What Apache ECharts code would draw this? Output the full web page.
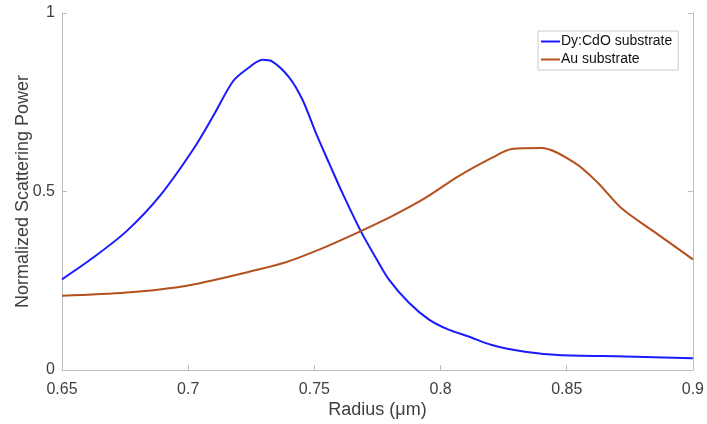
<!DOCTYPE html>
<html>
<head>
<meta charset="utf-8">
<script src="https://cdn.jsdelivr.net/npm/echarts@6/dist/echarts.min.js"></script>
<style>
  html, body { margin: 0; padding: 0; background: #fff; }
  #chart { width: 707px; height: 424px; }
</style>
</head>
<body>
<div id="chart"></div>
<script>
var radiusDy = [0.65, 0.6624, 0.6756, 0.6887, 0.7019, 0.7098, 0.7177, 0.7229, 0.7295, 0.7334, 0.74, 0.7453, 0.7506, 0.7558, 0.7611, 0.7684, 0.7743, 0.7795, 0.7874, 0.7953, 0.8032, 0.8111, 0.8203, 0.8335, 0.8467, 0.873, 0.9];
var powerDy = [0.254, 0.315, 0.389, 0.487, 0.617, 0.710, 0.808, 0.841, 0.869, 0.864, 0.820, 0.757, 0.664, 0.580, 0.496, 0.389, 0.315, 0.254, 0.189, 0.142, 0.113, 0.094, 0.070, 0.051, 0.042, 0.038, 0.033];
var radiusAu = [0.65, 0.6756, 0.70, 0.7282, 0.74, 0.7545, 0.7684, 0.7808, 0.794, 0.8072, 0.8203, 0.8282, 0.84, 0.8532, 0.8624, 0.8716, 0.8861, 0.9];
var powerAu = [0.208, 0.217, 0.237, 0.282, 0.305, 0.345, 0.389, 0.431, 0.482, 0.543, 0.594, 0.619, 0.622, 0.580, 0.524, 0.454, 0.380, 0.310];
var xTicks = [0.65, 0.7, 0.75, 0.8, 0.85, 0.9];
var yTicks = [0, 0.5, 1];

var names = ["Dy:CdO substrate", "Au substrate"];
var colors = ["#1a1aff", "#b5501c"];
var txt = "#404040";
var axisGray = "#bdbdbd";

function pairs(xs, ys) {
  return xs.map(function (x, i) { return [x, ys[i]]; });
}

var chart = echarts.init(document.getElementById("chart"));
chart.setOption({
  animation: false,
  backgroundColor: "#fff",
  textStyle: { fontFamily: "Liberation Sans, Arial, sans-serif" },
  grid: { left: 62, right: 12, top: 13, bottom: 53 },
  legend: {
    data: names,
    orient: "vertical",
    left: 538,
    top: 31,
    padding: [2, 6, 2, 3],
    itemGap: 1,
    itemWidth: 19,
    itemHeight: 2,
    icon: "rect",
    backgroundColor: "#fff",
    borderColor: "#cccccc",
    borderWidth: 1,
    borderRadius: 0,
    textStyle: { color: "#111", fontSize: 14, padding: [0, 0, 0, -4], lineHeight: 17 }
  },
  xAxis: {
    type: "value",
    min: 0.65,
    max: 0.9,
    interval: 0.05,
    name: "Radius (μm)",
    nameLocation: "middle",
    nameGap: 31,
    nameMoveOverlap: false,
    nameTextStyle: { color: txt, fontSize: 18 },
    axisLine: { lineStyle: { color: axisGray, width: 1 } },
    axisTick: { inside: true, length: 5, lineStyle: { color: axisGray } },
    axisLabel: {
      color: txt, fontSize: 16, margin: 12,
      showMinLabel: true, showMaxLabel: true,
      formatter: function (v) {
        var t = xTicks.find(function (k) { return Math.abs(k - v) < 1e-6; });
        return t === undefined ? "" : String(t);
      }
    },
    splitLine: { show: false }
  },
  yAxis: [
    {
      type: "value",
      min: 0,
      max: 1,
      interval: 0.5,
      name: "Normalized Scattering Power",
      nameLocation: "middle",
      nameGap: 30,
      nameMoveOverlap: false,
      nameTextStyle: { color: txt, fontSize: 18 },
      axisLine: { show: true, lineStyle: { color: axisGray, width: 1 } },
      axisTick: { show: true, inside: true, length: 5, lineStyle: { color: axisGray } },
      axisLabel: {
        color: txt, fontSize: 16, margin: 7,
        formatter: function (v) {
          var t = yTicks.find(function (k) { return Math.abs(k - v) < 1e-6; });
          return t === undefined ? "" : String(t);
        }
      },
      splitLine: { show: false }
    },
    {
      type: "value",
      min: 0,
      max: 1,
      interval: 0.5,
      position: "right",
      axisLine: { show: true, lineStyle: { color: axisGray, width: 1 } },
      axisTick: { show: true, inside: true, length: 5, lineStyle: { color: axisGray } },
      axisLabel: { show: false },
      splitLine: { show: false }
    }
  ],
  series: [
    {
      name: names[0],
      type: "line",
      data: pairs(radiusDy, powerDy),
      smooth: 0.3,
      showSymbol: false,
      lineStyle: { color: colors[0], width: 2 },
      itemStyle: { color: colors[0] }
    },
    {
      name: names[1],
      type: "line",
      data: pairs(radiusAu, powerAu),
      smooth: 0.3,
      showSymbol: false,
      lineStyle: { color: colors[1], width: 2 },
      itemStyle: { color: colors[1] }
    }
  ]
});
</script>
</body>
</html>
